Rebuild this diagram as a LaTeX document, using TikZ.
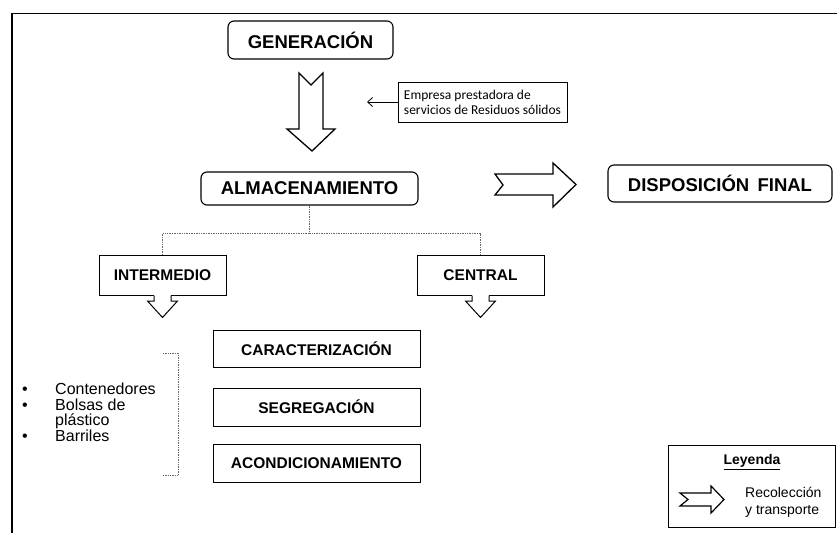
\documentclass[tikz,border=0pt]{standalone}
\usepackage{fontspec}
\setmainfont{Liberation Sans}
\newfontfamily\calfont{Carlito}
\usetikzlibrary{arrows.meta}
\begin{document}
\begin{tikzpicture}[x=1pt,y=-1pt,
  rbox/.style={draw, line width=1.1pt, rounded corners=6pt, minimum height=#1, inner sep=0pt, font=\bfseries\fontsize{18.5}{20}\selectfont},
  sbox/.style={draw, line width=1pt, inner sep=0pt, font=\bfseries\fontsize{15.5}{17}\selectfont},
  blockarrow/.style={draw, line width=1.3pt, fill=white, line join=miter},
  conn/.style={draw=black!60, densely dotted, line width=0.7pt},
  bullettext/.style={anchor=base west, inner sep=0pt, font=\fontsize{16}{16}\selectfont}]
\useasboundingbox (0,0) rectangle (837,533);
% frame
\draw[line width=1pt] (12,13) -- (837,13);
\draw[line width=2pt] (12,12.5) -- (12,533);

% main boxes
\node[rbox=38pt, minimum width=165pt] (gen) at (310.5,40) {GENERACIÓN};
\node[rbox=33pt, minimum width=217pt] (alm) at (309.5,188.5) {ALMACENAMIENTO};
\node[rbox=37pt, minimum width=224pt] (disp) at (720,183.5) {DISPOSICIÓN\hspace{0.45em}FINAL};

\node[draw, line width=0.8pt, minimum width=169pt, minimum height=40pt, inner sep=0pt, align=left,
      font=\calfont\fontsize{13.5}{15}\selectfont] (emp) at (482.5,102)
      {Empresa prestadora de\\servicios de Residuos sólidos};
\coordinate (empend) at (367,102);
\draw[line width=0.8pt, -{Straight Barb[length=5pt,width=9pt]}] (emp.west) -- (empend);

% block arrows
\draw[blockarrow] (299,73) -- (311,85) -- (323,73) -- (323,129) -- (335,129) -- (312,151) -- (287,129) -- (299,129) -- cycle;
\draw[blockarrow] (495,174) -- (503,185) -- (495,195) -- (553,195) -- (553,207) -- (576,184.5) -- (553,163) -- (553,174) -- cycle;

% secondary boxes
\node[sbox, minimum width=127pt, minimum height=40pt] (inter) at (162.5,275) {INTERMEDIO};
\node[sbox, minimum width=127pt, minimum height=40pt] (cent) at (480.5,275) {CENTRAL};

% connectors
\draw[conn] (alm.south) -- ++(0,28) -| (inter.north);
\draw[conn] (alm.south) -- ++(0,28) -| (cent.north);

% callout arrows under INTERMEDIO and CENTRAL
\foreach \n in {inter,cent}{
  \fill[white] ([xshift=-8.5pt,yshift=-1pt]\n.south) rectangle ([xshift=8.5pt,yshift=1pt]\n.south);
  \draw[line width=1pt, line join=miter]
    ([xshift=-8.5pt]\n.south) -- ++(0,5.5) -- ++(-6.5,0) -- ([yshift=-22pt]\n.south) -- ++(15,-16.5) -- ++(-6.5,0) -- ([xshift=8.5pt]\n.south);
}

% process boxes
\node[sbox, minimum width=207pt, minimum height=37pt] (car) at (316.5,348.5) {CARACTERIZACIÓN};
\node[sbox, minimum width=207pt, minimum height=38pt] (seg) at (316.5,407) {SEGREGACIÓN};
\node[sbox, minimum width=207pt, minimum height=38pt] (aco) at (316.5,463) {ACONDICIONAMIENTO};

% bracket
\draw[black!60, densely dotted, line width=0.7pt] (163,353) -- (178,353) -- (178,475) -- (163,475);

% bullet list
\node[bullettext] (b1) at (22,394) {•};
\node[bullettext] (t1) at (55,394) {Contenedores};
\node[bullettext] (b2) at (22,410) {•};
\node[bullettext] (t2) at (55,410) {Bolsas de};
\node[bullettext] (t3) at (55,425.5) {plástico};
\node[bullettext] (b3) at (22,441) {•};
\node[bullettext] (t4) at (55,441) {Barriles};

% legend
\node[draw, line width=1pt, minimum width=167pt, minimum height=82pt, inner sep=0pt] (leg) at (751.5,486) {};
\node[inner sep=0pt, font=\bfseries\fontsize{14}{16}\selectfont] (legt) at (752,462) {\underline{Leyenda}};
\draw[line width=1.2pt, line join=miter] (680,493) -- (688,499.5) -- (680,506) -- (711,506) -- (711,513) -- (724,499.5) -- (711,486) -- (711,493) -- cycle;
\node[anchor=west, inner sep=0pt, align=left, font=\fontsize{14}{16.5}\selectfont] (legd) at (745,502.5) {Recolección\\y transporte};
\end{tikzpicture}
\end{document}
